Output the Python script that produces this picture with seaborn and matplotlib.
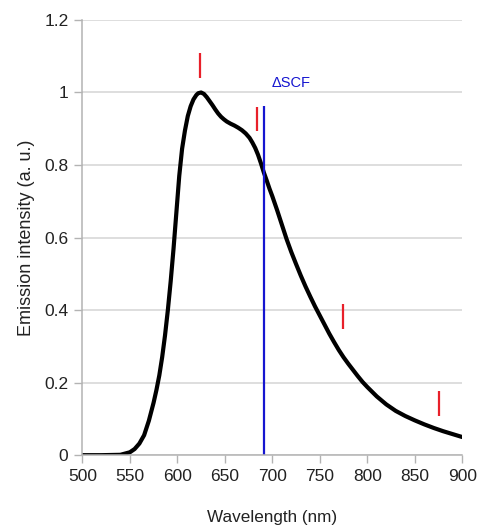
import pandas as pd
import seaborn as sns
from matplotlib import pyplot as plt
from matplotlib.ticker import FuncFormatter

# Emission spectrum
wavelength = [500, 520, 540, 550, 555, 560, 565, 570, 575, 578, 581, 584, 587,
              590, 593, 596, 599, 602, 605, 608, 611, 614, 617, 620, 622, 625,
              628, 631, 634, 637, 640, 643, 646, 649, 652, 656, 660, 664, 668,
              672, 676, 679, 682, 685, 688, 691, 694, 697, 700, 705, 710, 715,
              720, 725, 730, 735, 740, 745, 750, 755, 760, 765, 770, 775, 780,
              785, 790, 795, 800, 810, 820, 830, 840, 850, 860, 870, 880, 890,
              900]
intensity = [0, 0, 0.001, 0.008, 0.017, 0.032, 0.055, 0.095, 0.145, 0.18,
             0.22, 0.27, 0.33, 0.40, 0.48, 0.57, 0.67, 0.77, 0.845, 0.895,
             0.935, 0.962, 0.981, 0.993, 0.998, 1.0, 0.996, 0.987, 0.976,
             0.965, 0.953, 0.942, 0.933, 0.926, 0.92, 0.914, 0.909, 0.903,
             0.896, 0.887, 0.875, 0.862, 0.847, 0.828, 0.805, 0.78, 0.758,
             0.735, 0.714, 0.676, 0.636, 0.596, 0.56, 0.527, 0.495, 0.465,
             0.437, 0.41, 0.385, 0.36, 0.335, 0.312, 0.29, 0.27, 0.252, 0.235,
             0.218, 0.202, 0.188, 0.162, 0.14, 0.122, 0.108, 0.096, 0.085,
             0.075, 0.066, 0.058, 0.05]

# Red markers
mark_x = [624, 684, 774, 876]
mark_lo = [1.04, 0.895, 0.347, 0.108]
mark_hi = [1.108, 0.959, 0.417, 0.177]

# Delta SCF line
scf_x = 691
scf_top = 0.963
scf_label = "ΔSCF"

xticks = [500, 550, 600, 650, 700, 750, 800, 850, 900]
yticks = [0, 0.2, 0.4, 0.6, 0.8, 1.0, 1.2]

df = pd.DataFrame({"Wavelength": wavelength, "Intensity": intensity})

sns.set_theme(style="whitegrid")
plt.rcParams["font.family"] = ["Liberation Sans", "DejaVu Sans"]

fig = plt.figure(figsize=(4.79, 5.25), dpi=100)
ax = fig.add_axes([0.172, 0.133, 0.793, 0.829])

sns.lineplot(data=df, x="Wavelength", y="Intensity", color="black",
             linewidth=3, ax=ax, solid_joinstyle="round",
             solid_capstyle="round")
ax.vlines(mark_x, mark_lo, mark_hi, color="#e8202a", linewidth=1.6)
ax.vlines(scf_x, 0, scf_top, color="#1515d0", linewidth=1.6)
ax.text(scf_x + 8, 1.015, scf_label, color="#1515d0", fontsize=10.5,
        ha="left", va="baseline")

ax.set_xlim(500, 900)
ax.set_ylim(0, 1.2)
ax.set_xticks(xticks)
ax.set_yticks(yticks)
ax.yaxis.set_major_formatter(FuncFormatter(lambda v, p: f"{v:g}"))

ax.grid(axis="x", visible=False)
ax.grid(axis="y", color="#d4d4d4", linewidth=1.1)
for side in ["top", "right"]:
    ax.spines[side].set_visible(False)
for side in ["left", "bottom"]:
    ax.spines[side].set_color("#b3b3b3")
    ax.spines[side].set_linewidth(1.1)

ax.tick_params(axis="both", which="both", direction="out", length=6,
               width=1, color="#b3b3b3", labelsize=12.5, labelcolor="#222222",
               bottom=True, left=True, pad=4)

ax.set_xlabel("Wavelength (nm)", fontsize=12.3, color="#222222", labelpad=19)
ax.set_ylabel("Emission intensity (a. u.)", fontsize=13, color="#222222",
              labelpad=7)

fig.savefig("out.png", dpi=100)
